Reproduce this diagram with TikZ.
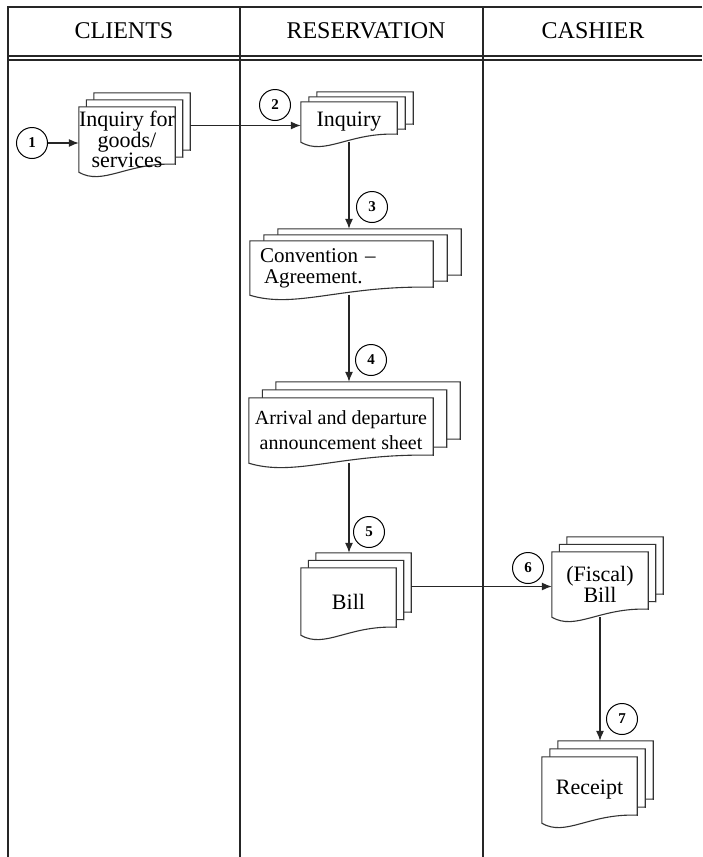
\documentclass[tikz,border=0pt]{standalone}
\usepackage{fontspec}
\setmainfont{Liberation Serif}
\usepackage{tikz}
\usetikzlibrary{arrows.meta,calc,backgrounds}

% stacked document outline behind node #1, one copy per step #2
\newcommand{\docstack}[2]{%
  \foreach \dd in {2,1,0}{%
    \filldraw[docline] ($(#1.north west)+\dd*(#2)$) -- ($(#1.north east)+\dd*(#2)$)
      -- ($(#1.south east)+\dd*(#2)+(0,-8)$)
      .. controls ($(#1.south west)!0.5!(#1.south east)+\dd*(#2)+(0,-10)$)
             and ($(#1.south west)!0.25!(#1.south east)+\dd*(#2)+(0,14)$)
      .. ($(#1.south west)+\dd*(#2)$) -- cycle;
  }%
  \coordinate (#1-back) at ($(#1.east)+2*(#2)$);
  \coordinate (#1-top)  at ($(#1.north)+2*(#2)$);
}

\begin{document}
\begin{tikzpicture}[
  x=1pt, y=-1pt,
  lane/.style   ={line width=1.1pt, draw=black!85},
  lanehead/.style={font=\fontsize{24}{24}\selectfont},
  doc/.style    ={inner sep=0pt, align=center, font=\fontsize{22}{21}\selectfont},
  docline/.style={line width=1.1pt, draw=black!80, fill=white},
  num/.style    ={draw, circle, line width=1pt, minimum size=31pt, inner sep=0pt,
                  font=\fontsize{15}{15}\selectfont\bfseries},
  ar/.style     ={-{Latex[length=10pt,width=8pt]}, line width=1.1pt, draw=black!85}
]
\useasboundingbox (0,0) rectangle (702,857);

% swimlane frame
\draw[lane] (702,7) -- (8,7) -- (8,857);
\draw[lane] (240,7) -- (240,857);
\draw[lane] (483,7) -- (483,857);
\draw[lane] (8,56) -- (702,56);
\draw[lane] (8,60) -- (702,60);

\node[lanehead] (hcli) at (124,31) {CLIENTS};
\node[lanehead] (hres) at (366,31) {RESERVATION};
\node[lanehead] (hcas) at (593,31) {CASHIER};

% documents
\node[doc, font=\fontsize{22}{20}\selectfont, minimum width=96pt,
      minimum height=65pt] (goods) at (127,139.5)
  {Inquiry for\\goods/\\services};
\node[doc, minimum width=96pt, minimum height=40pt] (inq) at (349,122) {Inquiry};
\node[doc, font=\fontsize{21}{21}\selectfont, align=left, inner xsep=10pt,
      text width=163pt, minimum height=54pt] (conv) at (341.5,268)
  {Convention --\\\hspace*{4pt}Agreement.};
\node[doc, font=\fontsize{20}{25}\selectfont, minimum width=184pt,
      minimum height=65pt] (arr) at (341,430.5)
  {Arrival and departure\\announcement sheet};
\node[doc, minimum width=95pt, minimum height=67pt] (bill) at (348.5,601.5) {Bill};
\node[doc, minimum width=96pt, minimum height=65pt] (fiscal) at (600,584.5)
  {(Fiscal)\\Bill};
\node[doc, minimum width=95pt, minimum height=66pt] (receipt) at (589.5,790) {Receipt};

\begin{scope}[on background layer]
  \docstack{goods}{7.5,-7}
  \docstack{inq}{8,-5}
  \docstack{conv}{14,-6}
  \docstack{arr}{13.5,-8}
  \docstack{bill}{7.5,-7.5}
  \docstack{fiscal}{7.5,-7.5}
  \docstack{receipt}{8,-8}
\end{scope}

% step numbers
\node[num] (n1) at (32,143)  {1};
\node[num] (n2) at (275,105) {2};
\node[num] (n3) at (372,207) {3};
\node[num] (n4) at (371,360) {4};
\node[num] (n5) at (369,532) {5};
\node[num] (n6) at (528,568) {6};
\node[num] (n7) at (622,719) {7};

\draw[ar] (n1) -- (n1 -| goods.west);
\draw[ar] (goods-back) -- (goods-back -| inq.west);
\draw[ar] (inq.south) -- (inq.south |- conv-top);
\draw[ar] (conv.south -| inq.south) -- (inq.south |- arr-top);
\draw[ar] (arr.south -| inq.south) -- (inq.south |- bill-top);
\draw[ar] (bill-back) -- (bill-back -| fiscal.west);
\draw[ar] (fiscal.south) -- (fiscal.south |- receipt-top);

\end{tikzpicture}
\end{document}
